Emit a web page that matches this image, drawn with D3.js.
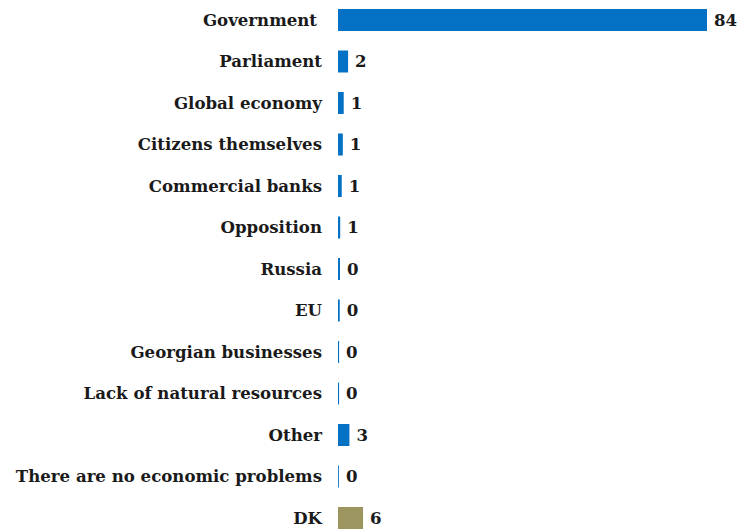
<!DOCTYPE html>
<html>
<head>
<meta charset="utf-8">
<script src="https://cdn.jsdelivr.net/npm/d3@7"></script>
<style>
  body { margin: 0; background: #fff; }
  text { font-family: "DejaVu Serif", serif; font-weight: bold; fill: #1a1a1a; }
</style>
</head>
<body>
<div id="bar"></div>
<script>
const categories = ["Government", "Parliament", "Global economy", "Citizens themselves",
    "Commercial banks", "Opposition", "Russia", "EU", "Georgian businesses",
    "Lack of natural resources", "Other", "There are no economic problems", "DK"];
const values = [84, 2.3, 1.3, 1.1, 0.85, 0.5, 0.45, 0.4, 0.25, 0.25, 2.6, 0.2, 5.7];
const labels = ["84", "2", "1", "1", "1", "1", "0", "0", "0", "0", "3", "0", "6"];
const colors = ["#0571c4", "#0571c4", "#0571c4", "#0571c4", "#0571c4", "#0571c4", "#0571c4",
    "#0571c4", "#0571c4", "#0571c4", "#0571c4", "#0571c4", "#9d9560"];

const data = categories.map((c, i) => ({ cat: c, value: values[i], label: labels[i], color: colors[i] }));

const width = 738,
    height = 529,
    barLeft = 338;

let svg = d3.select("#bar")
            .append("svg")
            .attr("width", width)
            .attr("height", height);

const x = d3.scaleLinear()
            .domain([0, 84])
            .range([barLeft, 707]);

const y = d3.scaleBand()
            .domain(categories)
            .range([-0.75, 538.75])
            .paddingInner(0.47)
            .paddingOuter(0.235);

let bar = svg.selectAll(".bar")
    .data(data)
    .join("g")
    .attr("class", "bar");

bar.append("rect")
    .attr("fill", d => d.color)
    .attr("x", x(0))
    .attr("y", d => y(d.cat))
    .attr("width", d => x(d.value) - x(0))
    .attr("height", y.bandwidth());

// first label sits a little further left in the original
bar.append("text")
    .text(d => d.cat)
    .attr("x", (d, i) => i === 0 ? 317 : 322)
    .attr("y", d => y(d.cat) + y.bandwidth() / 2)
    .attr("dy", "0.35em")
    .attr("text-anchor", "end")
    .style("font-size", "16.6px");

bar.append("text")
    .text(d => d.label)
    .attr("x", d => x(d.value) + 7)
    .attr("y", d => y(d.cat) + y.bandwidth() / 2)
    .attr("dy", "0.35em")
    .style("font-size", "16.6px");
</script>
</body>
</html>
